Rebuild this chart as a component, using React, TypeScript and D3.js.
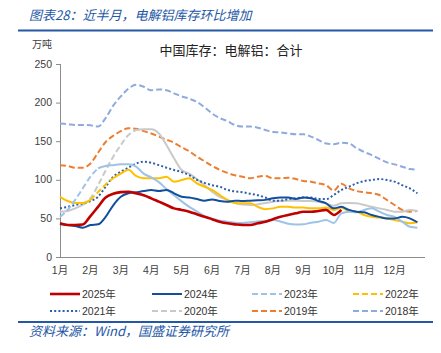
import React from "react";
import * as d3 from "d3";

// x grid: quarter-month steps (0 = 1月 start)
const GRID = d3.range(48).map((i) => i / 4);
const MONTH_LABELS = ["1月", "2月", "3月", "4月", "5月", "6月", "7月", "8月", "9月", "10月", "11月", "12月"];
const Y_TICKS = [0, 50, 100, 150, 200, 250];

const V2025 = [43.6, 41.5, 41.5, 42, 53, 65, 77, 82, 84, 84.6, 82.5, 80, 76, 71.7, 67.4, 63,
  61, 58.7, 55.3, 52, 49, 45.8, 43.6, 42.3, 41.5, 41.5, 43.6, 45.8, 49, 52, 54.4, 56.6,
  58.7, 58.7, 59.6, 61, 54.4, 61];
const V2024 = [42.3, 41.5, 40, 38, 41.5, 42.3, 52, 67, 78, 82.5, 83.8, 85.5, 86.8, 85.5, 86.8, 82.5,
  78, 77, 75, 73, 74.5, 72.5, 71.7, 73, 72.5, 73, 73.5, 74, 76, 77, 77, 75,
  77, 76, 72.5, 69.5, 63, 65, 61, 58.7, 57.9, 54.4, 52, 50, 50, 52, 50, 45];
const V2023 = [52, 61, 74, 89, 104, 115, 118, 119, 120, 120, 117, 108, 103, 97, 88, 80,
  72, 65, 59, 53, 49.5, 47, 45.8, 44.5, 44, 45, 46, 47, 48, 46, 43, 42,
  42.3, 44.5, 45.8, 48, 44, 56.6, 58.7, 57.9, 61, 63, 58.7, 54.4, 52, 45.8, 39.3, 38];
const V2022 = [78, 72.5, 70, 70, 74, 84, 94, 102, 108, 113, 105, 102, 102, 102, 104, 97.6,
  99.7, 102, 95.4, 91, 86.8, 80.3, 74, 70, 69.5, 69.5, 65, 62, 63, 65, 65, 64,
  64, 63, 63, 64, 61, 64, 59.6, 58.7, 54.4, 52, 51, 50, 48, 45.8, 43.6, 45];
const V2021 = [63, 65, 67.4, 69.5, 72.5, 78, 91, 104, 110.5, 115.7, 121, 123.5, 122, 119, 115.7, 112.7,
  110, 106, 100, 96, 93, 91, 87, 85, 84, 82, 80, 77, 73, 73, 75, 76,
  77, 77, 75, 75, 80.3, 86.8, 91, 95.4, 98.4, 99.7, 101, 99.7, 97.6, 93, 89, 82.5];
const V2020 = [58.7, 59.6, 63, 67.4, 76, 93, 112, 130, 145, 158, 164.5, 165.4, 165.4, 160, 145, 127.8,
  112.7, 108, 101, 93, 84.6, 78, 74, 70, 68, 67.4, 68, 70, 71.7, 72.5, 73, 73,
  72.5, 72.5, 71.7, 69.5, 66.5, 69.5, 70, 69.5, 67.4, 65, 63, 61, 58.7, 58.7, 61, 59.6];
const V2019 = [119, 118, 115.7, 115.7, 121, 135, 149, 157, 163, 166.7, 166, 163, 160, 156, 152, 148,
  142, 137, 130, 124, 118, 113, 109, 106, 104, 102, 104, 105, 102, 102, 102.8, 101,
  98.4, 97.6, 95.4, 93, 86, 95, 89, 85.5, 83.8, 82.5, 80.3, 73.8, 67.4, 61, 58.7, 59.5];
const V2018 = [173, 172, 171, 171, 170.6, 169, 180, 196, 208, 218, 223, 220.6, 216, 217, 216, 212,
  208, 205, 201, 194, 186, 180, 176, 171, 169, 169, 167.5, 164.5, 162, 161.5, 160, 159,
  159, 156, 151.5, 147, 146, 148, 147, 141, 136, 132, 127, 122.6, 120, 117, 114, 113];

type Series = {
  name: string;
  values: number[];
  color: string;
  width: number;
  dash?: string;
  legendDash?: string;
  gap?: [number, number];
};

const SERIES: Series[] = [
  { name: "2018年", values: V2018, color: "#8FAADC", width: 2, dash: "6,3", legendDash: "6,3" },
  { name: "2019年", values: V2019, color: "#ED7D31", width: 2, dash: "6,3", legendDash: "6,3" },
  { name: "2020年", values: V2020, color: "#C9C9C9", width: 2, legendDash: "6,3", gap: [0.75, 2.5] },
  { name: "2021年", values: V2021, color: "#2E5EAA", width: 2, dash: "2,2.2", legendDash: "2,2.2" },
  { name: "2022年", values: V2022, color: "#FFC000", width: 2, legendDash: "6,3", gap: [1.0, 1.75] },
  { name: "2023年", values: V2023, color: "#9DC3E6", width: 2, legendDash: "6,3", gap: [0, 1.25] },
  { name: "2024年", values: V2024, color: "#124E9C", width: 2, },
  { name: "2025年", values: V2025, color: "#C00000", width: 2.6 },
];

const LEGEND_ORDER = ["2025年", "2024年", "2023年", "2022年", "2021年", "2020年", "2019年", "2018年"];

const BLUE = "#2457A6";
const LATIN = "'Liberation Sans', Arial, 'Noto Sans CJK SC', sans-serif";
const CJK = "'Noto Sans CJK SC', 'Liberation Sans', sans-serif";

export default function App() {
  const x = d3.scaleLinear().domain([0, 12]).range([60, 425]);
  const y = d3.scaleLinear().domain([0, 250]).range([257, 64]);

  type P = { m: number; v: number };
  const line = d3
    .line<P>()
    .x((d) => x(d.m))
    .y((d) => y(d.v))
    .curve(d3.curveMonotoneX);

  const paths: React.ReactNode[] = [];
  SERIES.forEach((s) => {
    const pts: P[] = s.values.map((v, i) => ({ m: GRID[i], v }));
    if (s.gap) {
      const [g0, g1] = s.gap;
      const solid = line.defined((d) => d.m <= g0 || d.m >= g1)(pts);
      const dashed = line.defined(() => true)(pts.filter((d) => d.m >= g0 && d.m <= g1));
      paths.push(
        <path key={s.name + "s"} d={solid || ""} fill="none" stroke={s.color} strokeWidth={s.width} strokeLinejoin="round" />
      );
      paths.push(
        <path key={s.name + "d"} d={dashed || ""} fill="none" stroke={s.color} strokeWidth={s.width} strokeDasharray="6,3" />
      );
      line.defined(() => true);
    } else {
      paths.push(
        <path
          key={s.name}
          d={line.defined(() => true)(pts) || ""}
          fill="none"
          stroke={s.color}
          strokeWidth={s.width}
          strokeDasharray={s.dash}
          strokeLinejoin="round"
        />
      );
    }
  });

  const legendCols = [50, 152, 252, 353];
  const legendRows = [294, 311];

  return (
    <svg width={441} height={353} style={{ position: "absolute", left: 0, top: 0, background: "#fff" }}>
      <rect x={0} y={0} width={441} height={353} fill="#fff" />
      <text x={29} y={20} fontSize={13} fontStyle="italic" fill={BLUE} fontFamily={CJK}>
        图表28：近半月，电解铝库存环比增加
      </text>
      <line x1={18} x2={433} y1={30.5} y2={30.5} stroke={BLUE} strokeWidth={2} />

      <text x={32} y={47.5} fontSize={10} fill="#404040" fontFamily={CJK}>万吨</text>
      <text x={231} y={54.5} fontSize={13} fill="#222" textAnchor="middle" fontFamily={CJK}>
        中国库存：电解铝：合计
      </text>

      {/* y axis */}
      <line x1={60.5} x2={60.5} y1={y(250)} y2={y(0)} stroke="#8c8c8c" strokeWidth={1} />
      {Y_TICKS.map((t) => (
        <g key={t}>
          <line x1={56} x2={60.5} y1={y(t) + 0.5} y2={y(t) + 0.5} stroke="#8c8c8c" />
          <text x={52} y={y(t) + 3.6} fontSize={10.5} textAnchor="end" fill="#404040" fontFamily={LATIN}>
            {t}
          </text>
        </g>
      ))}
      {/* x axis */}
      <line x1={60} x2={425} y1={y(0) + 0.5} y2={y(0) + 0.5} stroke="#8c8c8c" strokeWidth={1} />
      {MONTH_LABELS.map((l, i) => (
        <text key={l} x={x(i)} y={274} fontSize={10.5} textAnchor="middle" fill="#404040" fontFamily={LATIN}>
          {l}
        </text>
      ))}

      {paths}

      {/* legend */}
      {LEGEND_ORDER.map((n, i) => {
        const s = SERIES.find((q) => q.name === n)!;
        const cx = legendCols[i % 4];
        const cy = legendRows[Math.floor(i / 4)];
        return (
          <g key={n}>
            <line x1={cx} x2={cx + 30} y1={cy} y2={cy} stroke={s.color} strokeWidth={s.name === "2025年" ? 2.6 : 2} strokeDasharray={s.legendDash} />
            <text x={cx + 32} y={cy + 3.6} fontSize={10.5} fill="#333" fontFamily={LATIN}>{n}</text>
          </g>
        );
      })}

      <line x1={18} x2={433} y1={322} y2={322} stroke={BLUE} strokeWidth={2} />
      <text x={29} y={336} fontSize={13} fontStyle="italic" fill={BLUE} fontFamily={CJK}>
        资料来源：Wind，国盛证券研究所
      </text>
    </svg>
  );
}
